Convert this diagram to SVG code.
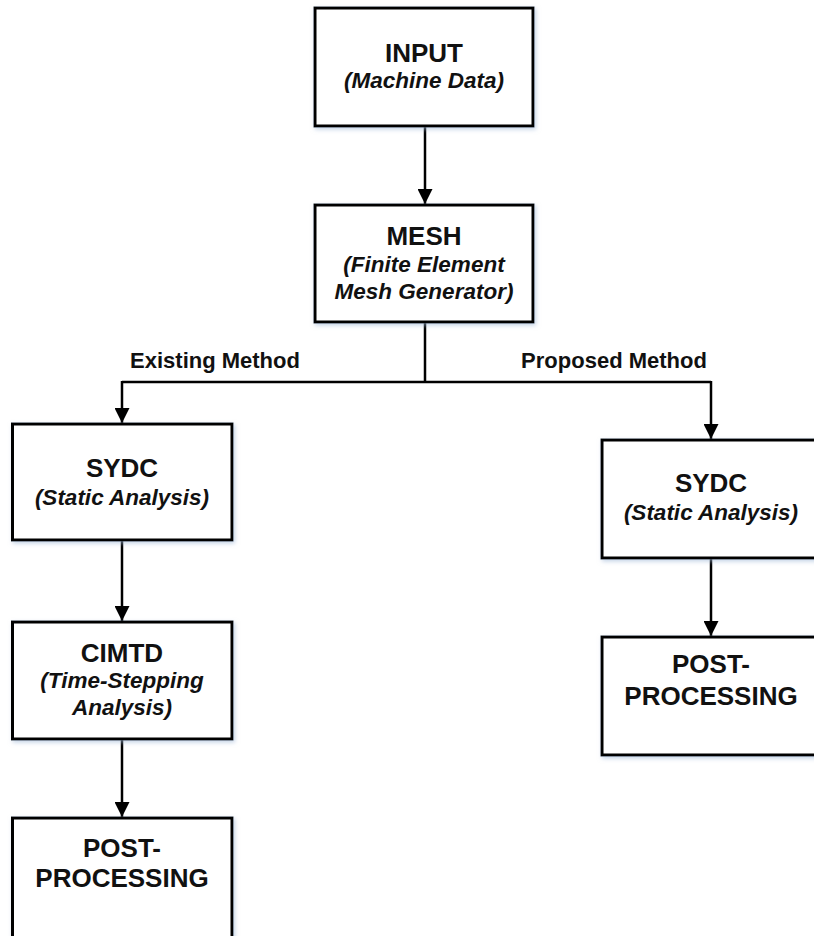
<svg xmlns="http://www.w3.org/2000/svg" width="814" height="936" viewBox="0 0 814 936">
<style>
.box{fill:#fff;stroke:#000;stroke-width:3;filter:url(#sh)}
.t{font-family:"Liberation Sans",Arial,sans-serif;font-weight:bold;font-size:26px;text-anchor:middle;fill:#111}
.s{font-family:"Liberation Sans",Arial,sans-serif;font-weight:bold;font-style:italic;font-size:22.5px;text-anchor:middle;fill:#111}
.l{font-family:"Liberation Sans",Arial,sans-serif;font-weight:bold;font-size:22px;text-anchor:middle;fill:#111}
.c{fill:none;stroke:#000;stroke-width:2.5}
</style>
<defs>
<filter id="sh" x="-10%" y="-10%" width="120%" height="120%">
<feDropShadow dx="1.5" dy="2" stdDeviation="2" flood-color="#9fb8d8" flood-opacity="0.6"/>
</filter>
<marker id="ah" viewBox="0 0 10 10" refX="10" refY="5" markerWidth="15" markerHeight="15" markerUnits="userSpaceOnUse" orient="auto">
<path d="M0,0 L10,5 L0,10 z" fill="#000"/>
</marker>
</defs>
<rect width="814" height="936" fill="#fff"/>
<g id="connectors">
<line class="c" x1="425" y1="126" x2="425" y2="204" marker-end="url(#ah)"/>
<path class="c" d="M425,322 V382 M122,382 H711"/>
<line class="c" x1="122" y1="381" x2="122" y2="423" marker-end="url(#ah)"/>
<line class="c" x1="711" y1="381" x2="711" y2="439" marker-end="url(#ah)"/>
<line class="c" x1="122" y1="540" x2="122" y2="621" marker-end="url(#ah)"/>
<line class="c" x1="122" y1="739" x2="122" y2="817" marker-end="url(#ah)"/>
<line class="c" x1="711" y1="558" x2="711" y2="636" marker-end="url(#ah)"/>
</g>
<g id="labels">
<text class="l" x="215" y="368">Existing Method</text>
<text class="l" x="614" y="368">Proposed Method</text>
</g>
<g id="input">
<rect class="box" x="315" y="8" width="218" height="118"/>
<text class="t" x="424" y="62">INPUT</text>
<text class="s" x="424" y="88">(Machine Data)</text>
</g>
<g id="mesh">
<rect class="box" x="315" y="205" width="218" height="117"/>
<text class="t" x="424" y="245">MESH</text>
<text class="s" x="424" y="272">(Finite Element</text>
<text class="s" x="424" y="299">Mesh Generator)</text>
</g>
<g id="sydc-left">
<rect class="box" x="12.5" y="424" width="219.5" height="116"/>
<text class="t" x="122" y="477">SYDC</text>
<text class="s" x="122" y="505">(Static Analysis)</text>
</g>
<g id="cimtd">
<rect class="box" x="12.5" y="622" width="219.5" height="117"/>
<text class="t" x="122" y="662">CIMTD</text>
<text class="s" x="122" y="688">(Time-Stepping</text>
<text class="s" x="122" y="715">Analysis)</text>
</g>
<g id="post-left">
<rect class="box" x="12.5" y="818" width="219.5" height="130"/>
<text class="t" x="122" y="857">POST-</text>
<text class="t" x="122" y="887">PROCESSING</text>
</g>
<g id="sydc-right">
<rect class="box" x="602" y="440" width="220" height="118"/>
<text class="t" x="711" y="492">SYDC</text>
<text class="s" x="711" y="520">(Static Analysis)</text>
</g>
<g id="post-right">
<rect class="box" x="602" y="637" width="220" height="118"/>
<text class="t" x="711" y="673">POST-</text>
<text class="t" x="711" y="705">PROCESSING</text>
</g>
</svg>
